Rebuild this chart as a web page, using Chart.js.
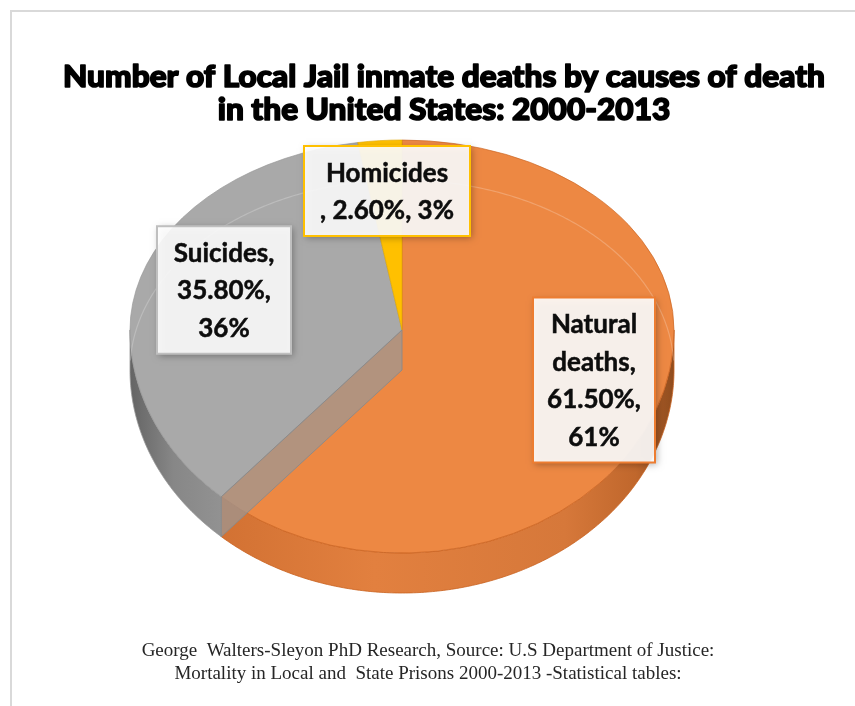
<!DOCTYPE html>
<html>
<head>
<meta charset="utf-8">
<script src="https://cdn.jsdelivr.net/npm/chart.js@4.4.0/dist/chart.umd.min.js"></script>
<style>
  html, body { margin: 0; padding: 0; background: #fff; overflow: hidden; }
  canvas { display: block; }
</style>
</head>
<body>
<canvas id="myChart" width="855" height="706"></canvas>
<script>
let chart = document.getElementById("myChart").getContext("2d");

var titleLines = ["Number of Local Jail inmate deaths by causes of death", "in the United States: 2000-2013"];
var sourceLines = [
  "George  Walters-Sleyon PhD Research, Source: U.S Department of Justice:",
  "Mortality in Local and  State Prisons 2000-2013 -Statistical tables:"
];
var categories = ["Natural deaths", "Suicides", "Homicides"];
var percents = [61.5, 35.8, 2.6];
// rounded share as it is printed after the percentage
var shares = [61, 36, 3];

// slice colours: top face, outline, label frame
var topColors = ["#ED8843", "#A9A9A9", "#FFC000"];
var edgeColors = ["#C9621F", "#979797", "#E0A800"];
var frameColors = ["#ED7D31", "#BFBFBF", "#FFC000"];
// side wall shading, left to right
var wallStops = [
  [[0, "#c9692c"], [0.45, "#e2803f"], [0.8, "#d6783a"], [0.93, "#c0672c"], [1, "#8f4c1e"]],
  [[0, "#646464"], [0.08, "#878787"], [0.25, "#9c9c9c"], [1, "#9c9c9c"]],
  [[0, "#d9a300"], [1, "#d9a300"]]
];

// where the tilted pie sits: top ellipse is taller toward the viewer
var PIE = { cx: 402, cy: 330, rx: 272, ryT: 190, ryB: 223, depth: 40 };
// label boxes: centre and width
var labelBoxes = [
  { x: 594, y: 380, w: 122 },
  { x: 224, y: 290, w: 134 },
  { x: 387, y: 191, w: 166 }
];
var LINE_H = 37.5;

function pctText(i) { return percents[i].toFixed(2) + "%"; }
function shareText(i) { return shares[i] + "%"; }
var labelLines = [
  categories[0].split(" ").map((w, k, a) => (k === a.length - 1 ? w + "," : w)).concat([pctText(0) + ",", shareText(0)]),
  [categories[1] + ",", pctText(1) + ",", shareText(1)],
  [categories[2], ", " + pctText(2) + ", " + shareText(2)]
];

function ellPt(a, dy) {
  var s = Math.sin(a);
  return [PIE.cx + PIE.rx * Math.cos(a), PIE.cy + dy + (s >= 0 ? PIE.ryB : PIE.ryT) * s];
}

function tracePath(ctx, a1, a2, dy, first) {
  var n = Math.max(2, Math.ceil(Math.abs(a2 - a1) / 0.01));
  for (let k = 0; k <= n; k++) {
    var p = ellPt(a1 + (a2 - a1) * k / n, dy);
    if (k === 0 && first) ctx.moveTo(p[0], p[1]);
    else ctx.lineTo(p[0], p[1]);
  }
}

function wallGradient(ctx, i) {
  var g = ctx.createLinearGradient(PIE.cx - PIE.rx, 0, PIE.cx + PIE.rx, 0);
  wallStops[i].forEach((s) => g.addColorStop(s[0], s[1]));
  return g;
}

// front rim of each slice (only the half facing us shows)
function drawRims(ctx, arcs) {
  arcs.forEach((arc, i) => {
    var lo = Math.max(arc.startAngle, 0);
    var hi = Math.min(arc.endAngle, Math.PI);
    if (hi <= lo) return;
    ctx.beginPath();
    tracePath(ctx, lo, hi, 0, true);
    tracePath(ctx, hi, lo, PIE.depth, false);
    ctx.closePath();
    ctx.fillStyle = wallGradient(ctx, i);
    ctx.fill();
    ctx.strokeStyle = edgeColors[i];
    ctx.lineWidth = 0.8;
    ctx.stroke();
  });
}

// cut face of a slice that turns toward the viewer, drawn see-through
function drawCutFaces(ctx, arcs) {
  arcs.forEach((arc, i) => {
    var a = arc.startAngle;
    if (Math.sin(a) <= 0.2) return;
    var p = ellPt(a, 0);
    ctx.save();
    ctx.globalAlpha = 0.72;
    ctx.beginPath();
    ctx.moveTo(PIE.cx, PIE.cy);
    ctx.lineTo(p[0], p[1]);
    ctx.lineTo(p[0], p[1] + PIE.depth);
    ctx.lineTo(PIE.cx, PIE.cy + PIE.depth);
    ctx.closePath();
    ctx.fillStyle = "#9b9795";
    ctx.fill();
    ctx.globalAlpha = 0.9;
    ctx.strokeStyle = "#8a8a8a";
    ctx.lineWidth = 1;
    ctx.stroke();
    ctx.restore();
  });
}

const tiltedPie = {
  id: "tiltedPie",
  beforeDraw(c) {
    var ctx = c.ctx;
    ctx.save();
    ctx.fillStyle = "#fff";
    ctx.fillRect(0, 0, c.width, c.height);
    ctx.strokeStyle = "#d9d9d9";
    ctx.lineWidth = 2;
    ctx.strokeRect(11, 11, 900, 800);
    ctx.restore();
  },
  beforeDatasetsDraw(c) {
    var ctx = c.ctx;
    var meta = c.getDatasetMeta(0);
    var arcs = meta.data;
    var r = arcs[0].outerRadius, ox = arcs[0].x, oy = arcs[0].y;

    drawRims(ctx, arcs);

    // top faces: upper and lower halves squashed by different amounts
    [[0, PIE.cy, PIE.ryT], [PIE.cy, c.height, PIE.ryB]].forEach((h) => {
      ctx.save();
      ctx.beginPath();
      ctx.rect(0, h[0], c.width, h[1] - h[0]);
      ctx.clip();
      ctx.translate(PIE.cx, PIE.cy);
      ctx.scale(PIE.rx / r, h[2] / r);
      ctx.translate(-ox, -oy);
      meta.controller.draw();
      ctx.restore();
    });

    // hidden bottom edge shows faintly through the top
    ctx.save();
    ctx.beginPath();
    tracePath(ctx, Math.PI + 0.05, 2 * Math.PI - 0.05, PIE.depth, true);
    ctx.strokeStyle = "rgba(255,255,255,0.22)";
    ctx.lineWidth = 1.2;
    ctx.stroke();
    ctx.restore();

    drawCutFaces(ctx, arcs);
    return false;
  },
  afterDraw(c) {
    var ctx = c.ctx;
    ctx.save();

    // data labels
    ctx.font = "bold 26px Lato";
    ctx.textAlign = "center";
    ctx.textBaseline = "middle";
    labelBoxes.forEach((b, i) => {
      var lines = labelLines[i];
      var h = lines.length * LINE_H + 15;
      var x = b.x - b.w / 2, y = b.y - h / 2;
      ctx.save();
      ctx.shadowColor = "rgba(0,0,0,0.35)";
      ctx.shadowBlur = 7;
      ctx.shadowOffsetX = 2;
      ctx.shadowOffsetY = 2;
      ctx.fillStyle = "rgba(255,255,255,0.9)";
      ctx.fillRect(x, y, b.w, h);
      ctx.restore();
      ctx.strokeStyle = frameColors[i];
      ctx.lineWidth = 2;
      ctx.strokeRect(x, y, b.w, h);
      ctx.fillStyle = "#0d0d0d";
      ctx.strokeStyle = "#0d0d0d";
      ctx.lineWidth = 0.5;
      lines.forEach((t, j) => {
        var ty = y + 7.5 + LINE_H * (j + 0.5) + 1;
        ctx.fillText(t, b.x, ty);
        ctx.strokeText(t, b.x, ty);
      });
    });

    // title, stretched to the width of the heading and thickened
    ctx.font = "900 31px Lato";
    ctx.textBaseline = "alphabetic";
    ctx.fillStyle = "#000";
    ctx.strokeStyle = "#000";
    ctx.lineWidth = 1.6;
    ctx.lineJoin = "round";
    var sx = 762 / ctx.measureText(titleLines[0]).width;
    titleLines.forEach((t, i) => {
      ctx.save();
      ctx.translate(444, 87 + i * 33);
      ctx.scale(sx, 1);
      ctx.fillText(t, 0, 0);
      ctx.strokeText(t, 0, 0);
      ctx.restore();
    });

    // source note
    ctx.font = "19px 'Liberation Serif'";
    ctx.fillStyle = "#262626";
    sourceLines.forEach((t, i) => ctx.fillText(t, 428, 656 + i * 23));

    ctx.restore();
  }
};

let costChart = new Chart(chart, {
  type: "pie",
  data: {
    labels: categories,
    datasets: [
      {
        label: "Deaths",
        data: percents,
        backgroundColor: topColors,
        borderColor: edgeColors,
        borderWidth: 1,
      },
    ],
  },
  options: {
    responsive: false,
    animation: false,
    events: [],
    plugins: {
      legend: { display: false },
      tooltip: { enabled: false },
    },
  },
  plugins: [tiltedPie],
});
</script>
</body>
</html>
